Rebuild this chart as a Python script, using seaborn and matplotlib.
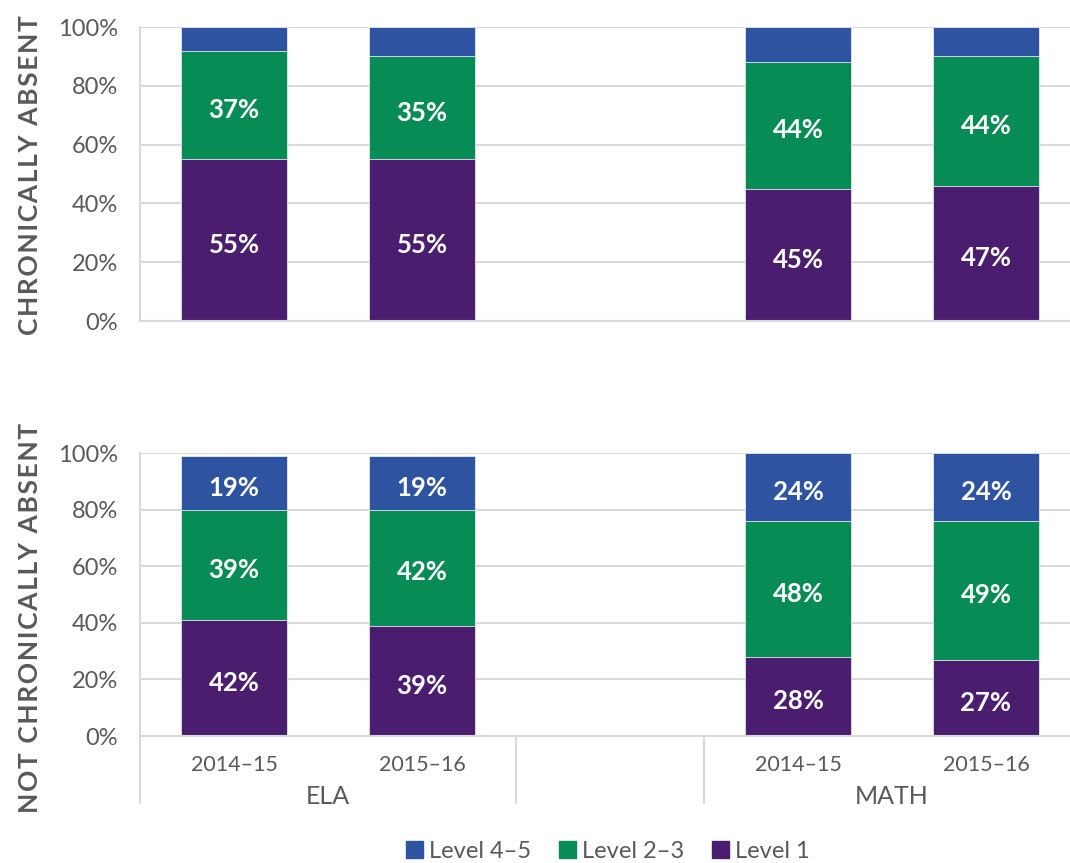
import numpy as np
import pandas as pd
import matplotlib
matplotlib.use("Agg")
import matplotlib.pyplot as plt
import matplotlib.transforms as mtransforms
from matplotlib.patches import Patch
import seaborn as sns

# ---- data ----
slots = ["ELA 2014–15", "ELA 2015–16", "", "MATH 2014–15", "MATH 2015–16"]
bar_slots = ["ELA 2014–15", "ELA 2015–16", "MATH 2014–15", "MATH 2015–16"]
year_labels = ["2014–15", "2015–16", "2014–15", "2015–16"]
groups = ["ELA", "MATH"]

# chronically absent (segment heights and printed labels)
chronic_l1 = [55, 55, 45, 46]
chronic_l23 = [37, 35, 43, 44]
chronic_l45 = [8, 10, 12, 10]
chronic_l1_lab = [55, 55, 45, 47]
chronic_l23_lab = [37, 35, 44, 44]

# not chronically absent
not_l1 = [41, 39, 28, 27]
not_l23 = [39, 41, 48, 49]
not_l45 = [19, 19, 24, 24]
not_l1_lab = [42, 39, 28, 27]
not_l23_lab = [39, 42, 48, 49]
not_l45_lab = [19, 19, 24, 24]

BLUE = "#2E53A1"
GREEN = "#088C56"
PURPLE = "#4A1D6F"
GRID = "#D9D9D9"
TXT = "#595959"

sns.set_theme(style="white")
plt.rcParams["font.family"] = ["Lato", "DejaVu Sans"]

fig = plt.figure(figsize=(10.7, 8.63), dpi=100)
W, H = 1070, 863
ax_top = fig.add_axes([140 / W, 1 - 321 / H, 940 / W, 294 / H])
ax_bot = fig.add_axes([140 / W, 1 - 736 / H, 940 / W, 283 / H])


def draw_panel(ax, l1, l23, l45, lab1, lab23, lab45):
    l1 = np.array(l1)
    l23 = np.array(l23)
    l45 = np.array(l45)
    df = pd.DataFrame({
        "slot": bar_slots,
        "c3": l1 + l23 + l45,
        "c2": l1 + l23,
        "c1": l1,
    })
    # stacked bars: draw cumulative totals from the top layer down
    for col, color in [("c3", BLUE), ("c2", GREEN), ("c1", PURPLE)]:
        sns.barplot(data=df, x="slot", y=col, order=slots, color=color,
                    width=0.56, saturation=1, edgecolor="#E8E8F0",
                    linewidth=0.6, ax=ax)
    pos = [0, 1, 3, 4]
    segs = [(np.zeros(4), l1, lab1), (l1, l23, lab23), (l1 + l23, l45, lab45)]
    for base, h, labs in segs:
        if labs is None:
            continue
        for i in range(4):
            ax.text(pos[i], base[i] + h[i] / 2 - 1, f"{labs[i]}%", ha="center",
                    va="center_baseline", color="white", fontsize=18.5,
                    fontweight="bold")

    ax.set_xlim(-0.5, 4.5)
    ax.set_ylim(0, 100)
    ax.set_yticks(range(0, 101, 20))
    ax.set_yticklabels([f"{v}%" for v in range(0, 101, 20)])
    ax.yaxis.grid(True, color=GRID, lw=1.5)
    ax.set_axisbelow(True)
    for s in ["top", "right"]:
        ax.spines[s].set_visible(False)
    for s in ["left", "bottom"]:
        ax.spines[s].set_color(GRID)
        ax.spines[s].set_linewidth(1.5)
    ax.tick_params(axis="both", length=0, labelsize=15.5, labelcolor=TXT)
    ax.tick_params(axis="y", pad=16, labelsize=17)
    ax.set_xlabel("")
    ax.set_ylabel("")


draw_panel(ax_top, chronic_l1, chronic_l23, chronic_l45,
           chronic_l1_lab, chronic_l23_lab, None)
ax_top.set_xticks([])

draw_panel(ax_bot, not_l1, not_l23, not_l45,
           not_l1_lab, not_l23_lab, not_l45_lab)
ax_bot.set_xticks([0, 1, 3, 4])
ax_bot.set_xticklabels(year_labels)
ax_bot.tick_params(axis="x", pad=14)

# group labels and separators under the bottom panel
trans = mtransforms.blended_transform_factory(ax_bot.transData, ax_bot.transAxes)
for xc, g in zip([0.5, 3.5], groups):
    ax_bot.text(xc, -0.215, g, transform=trans, ha="center", va="center",
                fontsize=18, color=TXT)
for xs in [-0.5, 1.5, 2.5]:
    ax_bot.plot([xs, xs], [0, -0.237], transform=trans, color=GRID, lw=1.5,
                clip_on=False)

# row titles (letter-spaced with hair spaces)
def spaced(s):
    return "\u200a".join(s)

fig.text(30 / W, 1 - 175 / H, spaced("CHRONICALLY ABSENT"), rotation=90,
         ha="center", va="center", fontsize=19, fontweight="bold", color=TXT)
fig.text(30 / W, 1 - 618 / H, spaced("NOT CHRONICALLY ABSENT"), rotation=90,
         ha="center", va="center", fontsize=19, fontweight="bold", color=TXT)

handles = [Patch(color=BLUE, label="Level 4–5"),
           Patch(color=GREEN, label="Level 2–3"),
           Patch(color=PURPLE, label="Level 1")]
leg = fig.legend(handles=handles, loc="center", bbox_to_anchor=(608 / W, 12 / H),
                 ncol=3, frameon=False, fontsize=17, handlelength=0.7,
                 handleheight=0.7, handletextpad=0.25, columnspacing=1.2)
for t in leg.get_texts():
    t.set_color(TXT)

fig.savefig("out.png", dpi=100)
